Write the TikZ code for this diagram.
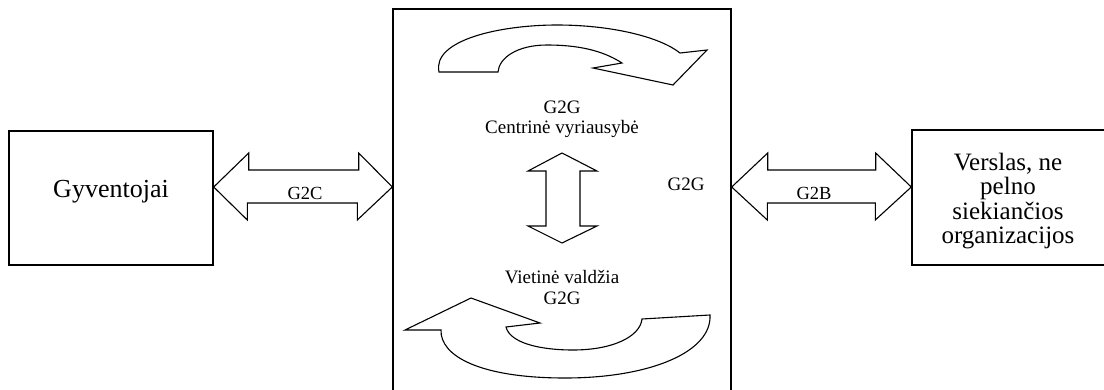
\documentclass[tikz,border=0pt]{standalone}
\usepackage{fontspec}
\setmainfont{Liberation Serif}
\begin{document}
\begin{tikzpicture}[x=1pt,y=-1pt,
  box/.style={draw,line width=1.4pt,rectangle,inner sep=0pt},
  shape line/.style={draw,line width=1.1pt,line join=miter,fill=white},
  big/.style={font=\fontsize{26}{30}\selectfont,inner sep=0pt},
  rbig/.style={font=\fontsize{25}{24.5}\selectfont,inner sep=0pt,align=center},
  lbl/.style={font=\fontsize{18.5}{20}\selectfont,inner sep=0pt},
  clbl/.style={font=\fontsize{19}{20}\selectfont,inner sep=0pt,anchor=base}]
\useasboundingbox (0,0) rectangle (1104,389);
% boxes
\node[box,minimum width=204pt,minimum height=134pt] (gy) at (111,198) {};
\node[box,minimum width=338pt,minimum height=390pt] (gov) at (562,204) {};
\node[box,minimum width=198pt,minimum height=135pt] (vr) at (1011,197.5) {};
\node[big,anchor=base] (gyt) at (111,197) {Gyventojai};
\node[rbig] (vrt) at (1008,201) {Verslas, ne\\pelno\\siekiančios\\organizacijos};
% G2C double arrow
\coordinate (c1) at (gy.east |- 0,187);
\coordinate (c2) at (gov.west |- 0,187);
\draw[shape line] (c1) -- ++(35,-34) -- ++(0,17) -- ++(110,0) -- ++(0,-17) -- (c2)
  -- ++(-35,33) -- ++(0,-17) -- ++(-110,0) -- ++(0,17) -- cycle;
\node[lbl,anchor=base] (g2c) at (305,199) {G2C};
% G2B double arrow
\coordinate (b1) at (gov.east |- 0,187);
\coordinate (b2) at (vr.west |- 0,187);
\draw[shape line] (b1) -- ++(36,-34) -- ++(0,17) -- ++(108,0) -- ++(0,-17) -- (b2)
  -- ++(-36,33) -- ++(0,-17) -- ++(-108,0) -- ++(0,17) -- cycle;
\node[lbl,anchor=base] (g2b) at (814,199) {G2B};
% vertical double arrow
\coordinate (v1) at (562,153);
\coordinate (v2) at (562,243);
\draw[shape line] (v1) -- (597,171) -- (580,171) -- (580,226) -- (597,226) -- (v2)
  -- (528,226) -- (546,226) -- (546,171) -- (528,171) -- cycle;
% texts in centre
\node[clbl] (t1) at (562,113) {G2G};
\node[clbl] (t2) at (562,133) {Centrinė vyriausybė};
\node[clbl] (t3) at (686,190) {G2G};
\node[clbl] (t4) at (562,283) {Vietinė valdžia};
\node[clbl] (t5) at (562,304) {G2G};
% top curved arrow
\draw[shape line] (439,72) .. controls (432,40) and (500,25) .. (557,25)
  .. controls (612,25) and (660,37) .. (680,53)
  -- (707,50) -- (673,85) -- (593,68) -- (622,63)
  .. controls (602,50) and (577,45) .. (547,45)
  .. controls (517,45) and (499,58) .. (498,72) -- cycle;
% bottom curved arrow
\draw[shape line] (405,330) -- (471,298) -- (540,323) -- (506,327)
  .. controls (510,343) and (540,350) .. (573,350)
  .. controls (612,350) and (640,337) .. (642,319)
  -- (710,315)
  .. controls (712,352) and (650,378) .. (565,378)
  .. controls (480,378) and (440,356) .. (441,330) -- cycle;
\end{tikzpicture}
\end{document}
